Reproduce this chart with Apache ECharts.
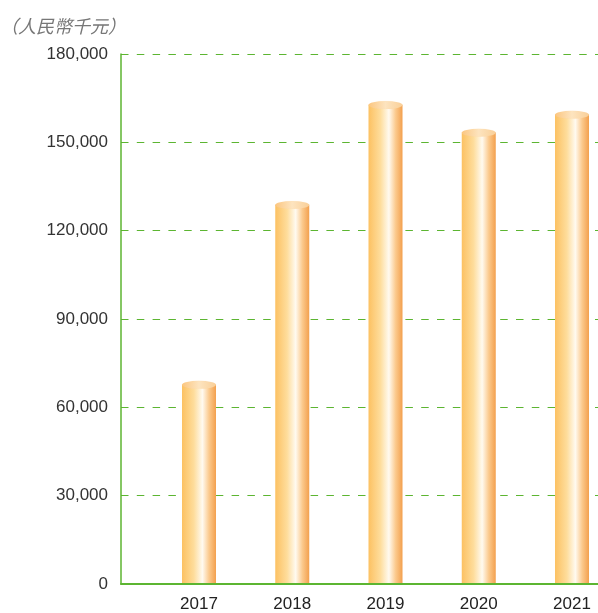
<!DOCTYPE html>
<html>
<head>
<meta charset="utf-8">
<script src="https://cdn.jsdelivr.net/npm/echarts@6/dist/echarts.min.js"></script>
<style>
  html, body { margin: 0; padding: 0; background: #fff; }
  #chart { width: 598px; height: 613px; }
</style>
</head>
<body>
<div id="chart"></div>
<script>
// 年份与数值（人民幣千元）
var years = ['2017', '2018', '2019', '2020', '2021'];
var values = [67500, 128700, 162700, 153300, 159400];
var yTicks = { min: 0, max: 180000, interval: 30000 };

var green = '#5cb531';

// 柱体横向渐变，模拟圆柱
var bodyColor = new echarts.graphic.LinearGradient(0, 0, 1, 0, [
  { offset: 0, color: '#fcc162' },
  { offset: 0.35, color: '#fedd9c' },
  { offset: 0.6, color: '#fffaf0' },
  { offset: 0.8, color: '#fbc98c' },
  { offset: 1, color: '#f3a04e' }
]);
var capColor = new echarts.graphic.LinearGradient(0, 0, 1, 0, [
  { offset: 0, color: '#fbc680' },
  { offset: 0.5, color: '#fde4bf' },
  { offset: 1, color: '#f9cf98' }
]);

var myChart = echarts.init(document.getElementById('chart'));
myChart.setOption({
  animation: false,
  textStyle: { fontFamily: 'Liberation Sans, Arial, sans-serif' },
  title: {
    text: '（人民幣千元）',
    left: -5,
    top: 12,
    textStyle: {
      fontFamily: 'Noto Sans CJK TC',
      fontSize: 18,
      fontWeight: 'normal',
      fontStyle: 'italic',
      color: '#777'
    }
  },
  grid: [
    { left: 121, right: 0, top: 54, bottom: 29 },
    { left: 199, right: 26, top: 54, bottom: 29 }
  ],
  xAxis: [
    {
      gridIndex: 0,
      type: 'value',
      min: 0,
      max: 1,
      axisLine: { show: true, lineStyle: { color: green, width: 2 } },
      axisTick: { show: false },
      axisLabel: { show: false },
      splitLine: { show: false }
    },
    {
      gridIndex: 1,
      type: 'category',
      data: years,
      boundaryGap: false,
      axisLine: { show: false },
      axisTick: { show: false },
      axisLabel: { color: '#222', fontSize: 17, margin: 13 }
    }
  ],
  yAxis: [
    {
      gridIndex: 0,
      type: 'value',
      min: yTicks.min,
      max: yTicks.max,
      interval: yTicks.interval,
      axisLine: { show: true, lineStyle: { color: green, width: 1.5 } },
      axisTick: { show: false },
      axisLabel: { color: '#333', fontSize: 17, margin: 13 },
      splitLine: {
        show: true,
        lineStyle: { color: green, type: [7.5, 8.3], width: 1.2 }
      }
    },
    {
      gridIndex: 1,
      type: 'value',
      min: yTicks.min,
      max: yTicks.max,
      show: false
    }
  ],
  series: [
    {
      type: 'bar',
      xAxisIndex: 1,
      yAxisIndex: 1,
      barWidth: 34,
      data: values,
      itemStyle: { color: bodyColor },
      z: 2
    },
    {
      type: 'pictorialBar',
      xAxisIndex: 1,
      yAxisIndex: 1,
      symbol: 'circle',
      symbolSize: [34, 8],
      symbolPosition: 'end',
      symbolOffset: [0, '-50%'],
      data: values,
      itemStyle: { color: capColor, borderColor: '#f6b86c', borderWidth: 1 },
      z: 3
    }
  ]
});
</script>
</body>
</html>
